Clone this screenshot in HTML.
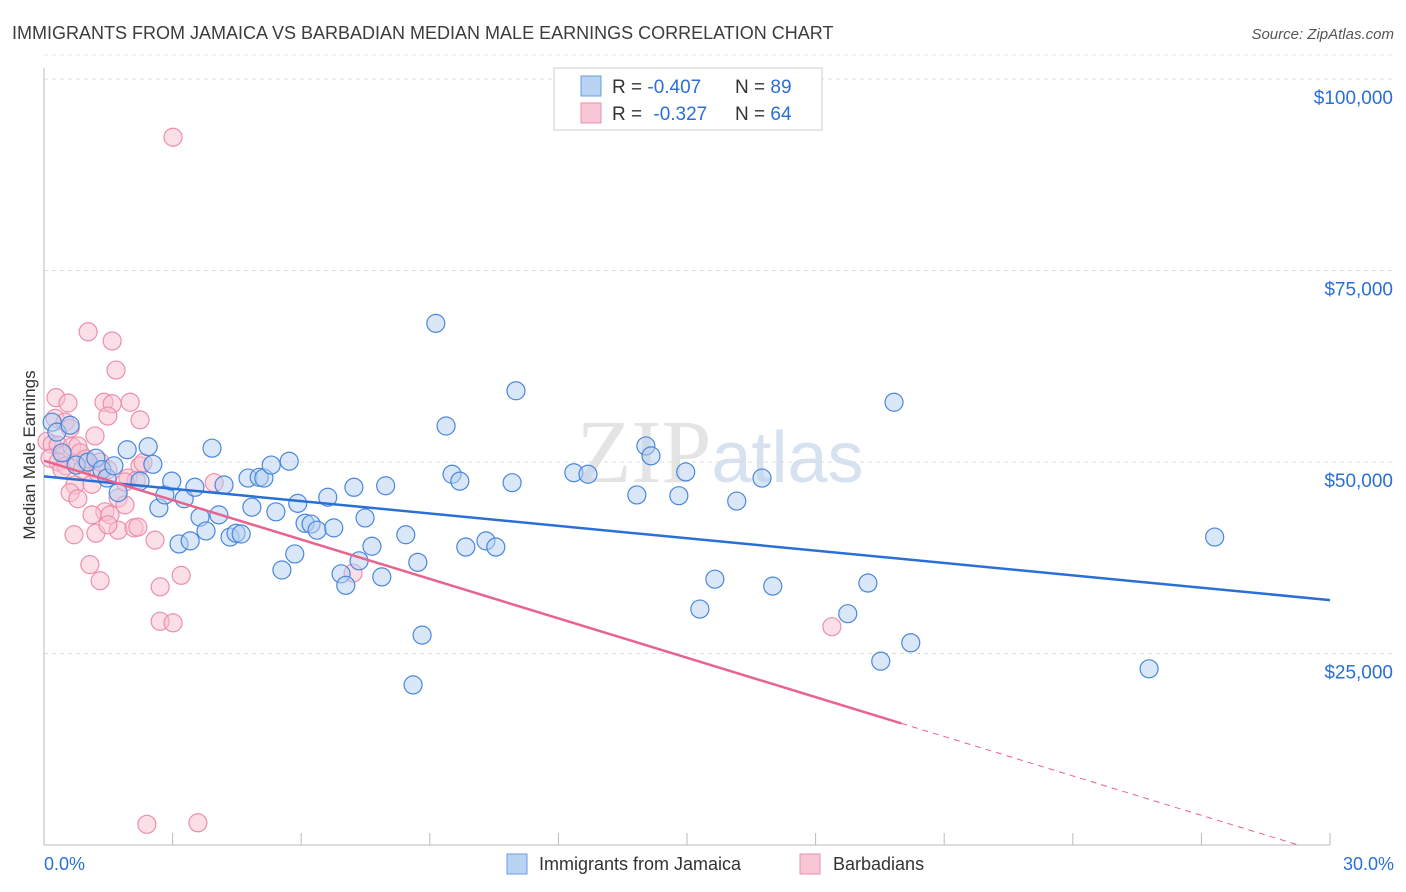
<!DOCTYPE html>
<html><head><meta charset="utf-8"><style>
body{margin:0;background:#fff;font-family:"Liberation Sans",sans-serif;}
svg{display:block}
</style></head><body>
<svg id="chart" width="1406" height="892">
<text x="12" y="39" font-size="18" fill="#3c3c3c">IMMIGRANTS FROM JAMAICA VS BARBADIAN MEDIAN MALE EARNINGS CORRELATION CHART</text>
<text x="1394" y="39" font-size="15" fill="#555" font-style="italic" text-anchor="end">Source: ZipAtlas.com</text>
<text x="720" y="482" font-size="90" fill="#e4e4e4" text-anchor="middle" font-family="Liberation Serif,serif">ZIP<tspan fill="#d6e2f0" font-family="Liberation Sans,sans-serif" font-size="72">atlas</tspan></text>
<g id="grid"></g>
<g id="axes"></g>
<g id="pts"></g>
<g id="trend"></g>
<text transform="translate(35,455) rotate(-90)" font-size="17" fill="#333" text-anchor="middle">Median Male Earnings</text>
<g>
<rect x="554" y="68" width="268" height="62" fill="#fff" stroke="#ccc"/>
<rect x="581" y="76" width="20" height="20" fill="#b9d3f3" stroke="#6a9be0"/>
<rect x="581" y="103" width="20" height="20" fill="#f8c6d4" stroke="#ec8fab"/>
<text x="612" y="93" font-size="19" fill="#333">R = <tspan fill="#2a6fd6">-0.407</tspan><tspan x="735">N = </tspan><tspan fill="#2a6fd6">89</tspan></text>
<text x="612" y="120" font-size="19" fill="#333">R = <tspan fill="#2a6fd6" dx="6">-0.327</tspan><tspan x="735">N = </tspan><tspan fill="#2a6fd6">64</tspan></text>
</g>
<g>
<rect x="507" y="854" width="20" height="20" fill="#b9d3f3" stroke="#6a9be0"/>
<text x="539" y="870" font-size="18" fill="#333">Immigrants from Jamaica</text>
<rect x="800" y="854" width="20" height="20" fill="#f8c6d4" stroke="#ec8fab"/>
<text x="833" y="870" font-size="18" fill="#333">Barbadians</text>
</g>
</svg>
<script>
const xTickLabels=["0.0%","30.0%"];
const yTickValues=[25000,50000,75000,100000];
const yTickLabels=["$25,000","$50,000","$75,000","$100,000"];
const jamX=[0.19,0.30,0.42,0.61,0.75,1.03,1.21,1.35,1.47,1.63,1.73,1.94,2.24,2.43,2.54,2.68,2.82,2.98,3.15,3.27,3.41,3.52,3.64,3.78,3.92,4.08,4.20,4.34,4.48,4.60,4.76,4.85,5.02,5.13,5.30,5.41,5.55,5.72,5.85,5.92,6.09,6.23,6.37,6.62,6.76,6.93,7.04,7.23,7.35,7.49,7.65,7.88,7.97,8.44,8.61,8.72,8.82,9.14,9.38,9.52,9.70,9.84,10.31,10.54,10.92,11.01,12.36,12.69,13.83,14.04,14.16,14.81,14.97,15.30,15.65,16.16,16.75,17.00,18.75,19.22,19.52,19.83,20.22,25.78,27.31];
const jamY=[55.2,53.9,51.2,54.8,49.6,50.0,50.5,49.0,47.9,49.5,46.0,51.6,47.5,52.0,49.7,44.0,45.7,47.5,39.3,45.2,39.7,46.7,42.8,41.0,51.8,43.1,47.0,40.2,40.7,40.6,47.9,44.1,48.0,47.9,49.6,43.5,35.9,50.1,38.0,44.6,42.0,41.9,41.1,45.4,41.4,35.4,33.9,46.7,37.1,42.7,39.0,35.0,46.9,40.5,20.9,36.9,27.4,68.1,54.7,48.4,47.5,38.9,39.7,38.9,47.3,59.3,48.6,48.4,45.7,52.1,50.8,45.6,48.7,30.8,34.7,44.9,47.9,33.8,30.2,34.2,24.0,57.8,26.4,23.0,40.2];
const barX=[0.28,0.56,0.26,0.49,0.61,0.07,0.19,0.33,0.44,0.65,0.14,0.33,0.51,0.79,0.84,0.98,0.89,0.72,0.61,0.79,1.12,0.98,1.19,1.26,1.49,1.42,1.12,1.03,1.59,1.68,1.40,1.59,1.49,2.01,2.24,1.73,1.89,1.73,1.54,2.10,2.19,1.96,2.24,2.31,2.59,2.71,2.71,3.01,3.20,3.97,0.70,1.21,1.07,1.31,3.01,2.40,3.59,7.21,18.38,2.15,1.49,1.89,0.42,1.31];
const barY=[58.4,57.7,55.7,55.2,54.4,52.7,52.3,52.2,50.9,52.0,50.5,50.0,49.5,52.1,51.2,49.9,49.0,47.0,46.0,45.2,47.1,50.4,53.4,48.6,49.0,43.5,43.1,67.0,65.8,62.0,57.8,57.6,56.0,57.8,55.5,45.3,44.4,41.1,43.1,41.4,41.5,47.9,49.5,49.9,39.8,33.7,29.2,29.0,35.2,47.3,40.5,40.7,36.6,34.5,92.4,2.7,2.9,35.5,28.5,47.6,41.8,47.4,49.0,50.0];

const NS="http://www.w3.org/2000/svg";
const X0=44,X1=1330,Y0=845,YPER=191.5/25000;
function sx(p){return X0+(p/30)*(X1-X0);}
function sy(v){return Y0-v*YPER;}
function mk(tag,attrs,parent){const e=document.createElementNS(NS,tag);for(const k in attrs)e.setAttribute(k,attrs[k]);parent.appendChild(e);return e;}
const grid=document.getElementById('grid'),axes=document.getElementById('axes'),pts=document.getElementById('pts'),trend=document.getElementById('trend');
yTickValues.forEach((v,i)=>{
  const l=mk('line',{x1:X0,x2:1393,y1:sy(v),y2:sy(v),stroke:'#dcdcdc','stroke-dasharray':'4,4'},grid);
  
  
  const t=mk('text',{x:1393,y:sy(v)+25,'font-size':19,fill:'#2a6fd6','text-anchor':'end'},axes);
  t.textContent=yTickLabels[i];
  
  
});
mk('line',{x1:X0,x2:1393,y1:sy(103000)-1,y2:sy(103000)-1,stroke:'#e6e6e6','stroke-dasharray':'4,4'},grid);
const ya=mk('line',{x1:X0,x2:X0,y1:68,y2:Y0,stroke:'#bbb'},axes);


const xa=mk('line',{x1:X0,x2:X1,y1:Y0,y2:Y0,stroke:'#bbb'},axes);


for(let i=1;i<=10;i++){const tk=mk('line',{x1:sx(i*3),x2:sx(i*3),y1:Y0-12,y2:Y0,stroke:'#bbb'},axes);
  
  }
const xl0=mk('text',{x:44,y:870,'font-size':18,fill:'#2a6fd6'},axes);xl0.textContent=xTickLabels[0];


const xl1=mk('text',{x:1394,y:870,'font-size':18,fill:'#2a6fd6','text-anchor':'end'},axes);xl1.textContent=xTickLabels[1];



function drawPts(xs,ys,fill,stroke,name){xs.forEach((x,i)=>{
  const c=mk('circle',{cx:sx(x),cy:sy(ys[i]*1000),r:9,fill:fill,'fill-opacity':0.5,stroke:stroke,'stroke-width':1.2},pts);
  
  });}
drawPts(barX,barY,'#f8bfd0','#ec8fab','barbadians-point');
drawPts(jamX,jamY,'#b3cff2','#4a87dc','jamaica-point');

function ols(xs,ys){const n=xs.length;let mx=0,my=0;for(let i=0;i<n;i++){mx+=xs[i];my+=ys[i];}mx/=n;my/=n;let sxy=0,sxx=0;for(let i=0;i<n;i++){sxy+=(xs[i]-mx)*(ys[i]-my);sxx+=(xs[i]-mx)**2;}const b=sxy/sxx;return [my-b*mx,b];}
const [ja,jb]=ols(jamX,jamY);
const jl=mk('line',{x1:sx(0),y1:sy(ja*1000),x2:sx(30),y2:sy((ja+jb*30)*1000),stroke:'#2a6fd6','stroke-width':2.5},trend);


const [ba,bb]=ols(barX,barY);
const xs1=20;
const bl=mk('line',{x1:sx(0),y1:sy(ba*1000),x2:sx(xs1),y2:sy((ba+bb*xs1)*1000),stroke:'#e8648e','stroke-width':2.5},trend);


let xEnd=Math.min(30,bb<0?-ba/bb:30);
const bd=mk('line',{x1:sx(xs1),y1:sy((ba+bb*xs1)*1000),x2:sx(xEnd),y2:sy((ba+bb*xEnd)*1000),stroke:'#e8648e','stroke-width':1,'stroke-dasharray':'6,5'},trend);


</script>
</body></html>
